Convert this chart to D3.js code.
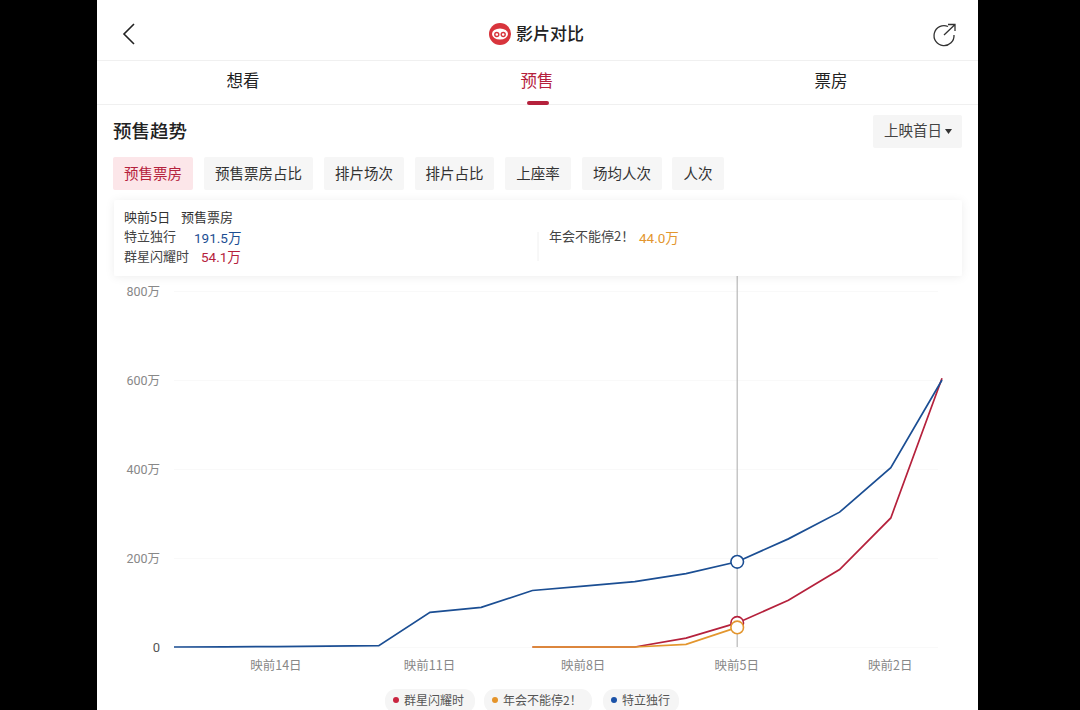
<!DOCTYPE html>
<html>
<head>
<meta charset="utf-8">
<script src="https://cdn.jsdelivr.net/npm/d3@7"></script>
<style>
  html, body { margin: 0; padding: 0; background: #000; overflow: hidden; }
  svg { display: block; }
  text { font-family: "Noto Sans CJK SC", "Noto Sans", sans-serif; }
  .num { font-family: Roboto, "Noto Sans CJK SC", sans-serif; }
</style>
</head>
<body>
<div id="chart"></div>
<script>
// days before release
const days = [16, 15, 14, 13, 12, 11, 10, 9, 8, 7, 6, 5, 4, 3, 2, 1];
const tedu = [0, 0.5, 1, 2, 3, 78, 89, 127, 137, 147, 165, 191.5, 243, 303, 403, 600];
const qunxing = [null, null, null, null, null, null, null, 0, 0, 0, 20, 54.1, 105, 174, 290, 604];
const nianhui = [null, null, null, null, null, null, null, 0, 0, 0, 6, 44, null, null, null, null];

const xTicks = [14, 11, 8, 5, 2];
const yTicks = [0, 200, 400, 600, 800];
const hoverDay = 5;

const tabs = ["想看", "预售", "票房"];
const chips = ["预售票房", "预售票房占比", "排片场次", "排片占比", "上座率", "场均人次", "人次"];
const legendNames = ["群星闪耀时", "年会不能停2！", "特立独行"];

const RED = "#b5213c", ORANGE = "#e3962e", BLUE = "#1b4e93";

const svg = d3.select("#chart").append("svg").attr("width", 1080).attr("height", 710);

const defs = svg.append("defs");
const shadow = defs.append("filter").attr("id", "cardShadow")
  .attr("x", "-3%").attr("y", "-20%").attr("width", "106%").attr("height", "140%");
shadow.append("feDropShadow").attr("dx", 0).attr("dy", 1).attr("stdDeviation", 4)
  .attr("flood-color", "#000").attr("flood-opacity", 0.07);

// phone screen
svg.append("rect").attr("x", 97).attr("y", 0).attr("width", 881).attr("height", 710).attr("fill", "#fff");

// header
svg.append("path").attr("d", "M134,24 L124,34 L134,44").attr("fill", "none").attr("stroke", "#222").attr("stroke-width", 1.6);
const logo = svg.append("g").attr("transform", "translate(500,34)");
logo.append("circle").attr("r", 11).attr("fill", "#d8343c");
logo.append("ellipse").attr("rx", 8).attr("ry", 5.5).attr("cy", 0).attr("fill", "#fff");
logo.selectAll(".eye").data([-3.2, 3.2]).enter().append("circle").attr("class", "eye")
  .attr("cx", d => d).attr("cy", 0.5).attr("r", 2).attr("fill", "none").attr("stroke", "#d8343c").attr("stroke-width", 1.4);
svg.append("text").attr("x", 516).attr("y", 40).attr("font-size", 17).attr("font-weight", 500).attr("fill", "#222").text("影片对比");
svg.append("path").attr("d", "M948,26.5 A10,10 0 1 0 954,35").attr("fill", "none").attr("stroke", "#333").attr("stroke-width", 1.3);
svg.append("path").attr("d", "M944,35 L954.5,25 M948,24.5 L955,24.5 L955,31").attr("fill", "none").attr("stroke", "#333").attr("stroke-width", 1.3);
svg.append("line").attr("x1", 97).attr("x2", 978).attr("y1", 60.5).attr("y2", 60.5).attr("stroke", "#f0f0f0");

// tabs
const tabX = d3.scalePoint().domain(tabs).range([243, 831]);
svg.selectAll(".tab").data(tabs).enter().append("text").attr("class", "tab")
  .attr("x", d => tabX(d)).attr("y", 86.5).attr("text-anchor", "middle").attr("font-size", 16.5)
  .attr("fill", d => d === "预售" ? RED : "#222").text(d => d);
svg.append("line").attr("x1", 97).attr("x2", 978).attr("y1", 104.5).attr("y2", 104.5).attr("stroke", "#f0f0f0");
svg.append("rect").attr("x", 527).attr("y", 101).attr("width", 22).attr("height", 4).attr("rx", 2).attr("fill", RED);

// section title and dropdown
svg.append("text").attr("x", 113).attr("y", 138).attr("font-size", 18.5).attr("font-weight", 500).attr("fill", "#222").text("预售趋势");
svg.append("rect").attr("x", 873).attr("y", 115).attr("width", 89).attr("height", 33).attr("rx", 2).attr("fill", "#f5f5f5");
svg.append("text").attr("x", 884).attr("y", 136).attr("font-size", 14.5).attr("fill", "#444").text("上映首日");
svg.append("path").attr("d", "M945,129 L952,129 L948.5,134 Z").attr("fill", "#333");

// metric chips
const chipLeft = [113, 204, 324, 415, 505, 582, 672];
const chipWidth = [80, 109, 80, 79, 66, 80, 52];
const chip = svg.selectAll(".chip").data(chips).enter().append("g").attr("class", "chip")
  .attr("transform", (d, i) => `translate(${chipLeft[i]},157)`);
chip.append("rect").attr("width", (d, i) => chipWidth[i]).attr("height", 33).attr("rx", 2)
  .attr("fill", (d, i) => i === 0 ? "#fce6e9" : "#f6f6f6");
chip.append("text").attr("x", (d, i) => chipWidth[i] / 2).attr("y", 21.5).attr("text-anchor", "middle")
  .attr("font-size", 14.5).attr("fill", (d, i) => i === 0 ? RED : "#333").text(d => d);

// chart
const x = d3.scaleLinear().domain([16, 1]).range([174, 942]);
const y = d3.scaleLinear().domain([0, 800]).range([647, 291]);

const yAxis = svg.append("g").attr("transform", "translate(174,0)")
  .call(d3.axisLeft(y).tickValues(yTicks).tickSize(-764).tickPadding(14)
    .tickFormat(d => d === 0 ? "0" : d + "万"));
yAxis.select(".domain").remove();
yAxis.selectAll(".tick line").attr("stroke", "#f9f9f9");
yAxis.selectAll(".tick text").attr("class", "num").attr("dy", "0.36em").attr("fill", d => d === 0 ? "#555" : "#888")
  .attr("font-size", d => d === 0 ? 13 : 12.5);

const xAxis = svg.append("g").attr("transform", "translate(-1,647)")
  .call(d3.axisBottom(x).tickValues(xTicks).tickSize(0).tickPadding(14)
    .tickFormat(d => `映前${d}日`));
xAxis.select(".domain").remove();
xAxis.selectAll(".tick text").attr("fill", "#888").attr("font-size", 12.5);

svg.append("line").attr("x1", x(hoverDay)).attr("x2", x(hoverDay)).attr("y1", 270).attr("y2", y(0))
  .attr("stroke", "#b8b8b8").attr("stroke-width", 1.2);

const line = d3.line().defined(d => d[1] !== null).x(d => x(d[0])).y(d => y(d[1]));
const series = [
  { values: qunxing, color: RED },
  { values: nianhui, color: ORANGE },
  { values: tedu, color: BLUE }
];
svg.selectAll(".series").data(series).enter().append("path").attr("class", "series")
  .attr("fill", "none").attr("stroke-width", 1.7).attr("stroke", d => d.color)
  .attr("d", d => line(days.map((day, i) => [day, d.values[i]])));

// hover markers
const hoverIndex = days.indexOf(hoverDay);
svg.selectAll(".hover").data(series).enter().append("circle").attr("class", "hover")
  .attr("cx", x(hoverDay)).attr("cy", d => y(d.values[hoverIndex])).attr("r", 6.3)
  .attr("fill", "#fff").attr("stroke", d => d.color).attr("stroke-width", 1.6);

// tooltip card
svg.append("rect").attr("x", 114).attr("y", 200).attr("width", 848).attr("height", 76).attr("rx", 3)
  .attr("fill", "#fff").attr("filter", "url(#cardShadow)");
svg.append("text").attr("x", 124).attr("y", 221.5).attr("font-size", 13).attr("fill", "#333")
  .text(`映前${hoverDay}日`);
svg.append("text").attr("x", 181).attr("y", 221.5).attr("font-size", 13).attr("fill", "#333").text(chips[0]);
svg.append("line").attr("x1", 538).attr("x2", 538).attr("y1", 232).attr("y2", 261).attr("stroke", "#f0f0f0");

const cardRows = [
  { name: legendNames[2], value: tedu[hoverIndex], color: BLUE, nameX: 124, valueX: 194, base: 241 },
  { name: legendNames[0], value: qunxing[hoverIndex], color: RED, nameX: 124, valueX: 201, base: 260.5 },
  { name: legendNames[1], value: nianhui[hoverIndex], color: ORANGE, nameX: 549, valueX: 639, base: 241 }
];
const row = svg.selectAll(".row").data(cardRows).enter().append("g").attr("class", "row");
row.append("text").attr("x", d => d.nameX).attr("y", d => d.base).attr("font-size", 13).attr("fill", "#444").text(d => d.name);
row.append("text").attr("class", "num").attr("x", d => d.valueX).attr("y", d => d.base + 1.5).attr("font-size", 13.5)
  .attr("fill", d => d.color).text(d => d.value.toFixed(1) + "万");

// legend pills
const pillLeft = [385, 484, 603];
const pillWidth = [90, 108, 76];
const legendColors = ["#c9243f", "#e5942a", "#1b52a8"];
const pill = svg.selectAll(".pill").data(legendNames).enter().append("g").attr("class", "pill")
  .attr("transform", (d, i) => `translate(${pillLeft[i]},689)`);
pill.append("rect").attr("width", (d, i) => pillWidth[i]).attr("height", 24).attr("rx", 11).attr("fill", "#f5f5f5");
pill.append("circle").attr("cx", 11).attr("cy", 11).attr("r", 3).attr("fill", (d, i) => legendColors[i]);
pill.append("text").attr("x", 19).attr("y", 15.5).attr("font-size", 12).attr("fill", "#555").text(d => d);
</script>
</body>
</html>
